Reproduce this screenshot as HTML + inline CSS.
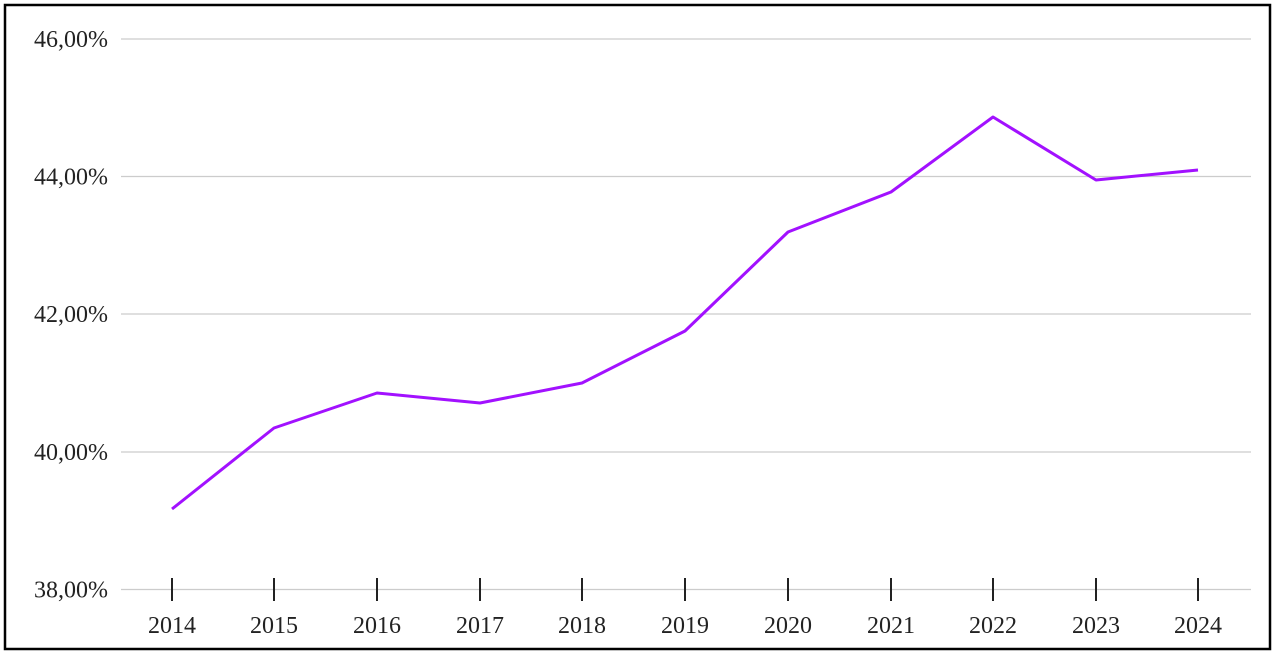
<!DOCTYPE html>
<html><head><meta charset="utf-8"><style>
html,body{margin:0;padding:0;background:#fff;}
svg{display:block;}
text{font-family:"Liberation Serif",serif;fill:#222;}
</style></head><body>
<svg width="1275" height="654" viewBox="0 0 1275 654">
<rect x="0" y="0" width="1275" height="654" fill="#fff"/>
<rect x="5" y="5" width="1265" height="644" fill="none" stroke="#000" stroke-width="2.5"/>
<g stroke="#ccc" stroke-width="1.3">
<line x1="121" y1="39" x2="1251" y2="39"/>
<line x1="121" y1="176.5" x2="1251" y2="176.5"/>
<line x1="121" y1="314" x2="1251" y2="314"/>
<line x1="121" y1="452" x2="1251" y2="452"/>
<line x1="121" y1="589.5" x2="1251" y2="589.5"/>
</g>
<g font-size="24" text-anchor="end">
<text x="108" y="47">46,00%</text>
<text x="108" y="184.5">44,00%</text>
<text x="108" y="322">42,00%</text>
<text x="108" y="460">40,00%</text>
<text x="108" y="597.5">38,00%</text>
</g>
<g stroke="#222" stroke-width="2">
<line x1="172" y1="578" x2="172" y2="601"/><line x1="274" y1="578" x2="274" y2="601"/>
<line x1="377" y1="578" x2="377" y2="601"/><line x1="480" y1="578" x2="480" y2="601"/>
<line x1="582" y1="578" x2="582" y2="601"/><line x1="685" y1="578" x2="685" y2="601"/>
<line x1="788" y1="578" x2="788" y2="601"/><line x1="891" y1="578" x2="891" y2="601"/>
<line x1="993" y1="578" x2="993" y2="601"/><line x1="1096" y1="578" x2="1096" y2="601"/>
<line x1="1198" y1="578" x2="1198" y2="601"/>
</g>
<g font-size="24" text-anchor="middle">
<text x="172" y="633">2014</text><text x="274" y="633">2015</text><text x="377" y="633">2016</text>
<text x="480" y="633">2017</text><text x="582" y="633">2018</text><text x="685" y="633">2019</text>
<text x="788" y="633">2020</text><text x="891" y="633">2021</text><text x="993" y="633">2022</text>
<text x="1096" y="633">2023</text><text x="1198" y="633">2024</text>
</g>
<polyline fill="none" stroke="#a211ff" stroke-width="3" stroke-linejoin="round"
points="172,509 274,428 377,393 480,403 582,383 685,331 788,232 891,192 993,117 1096,180 1198,170"/>
</svg>
</body></html>
